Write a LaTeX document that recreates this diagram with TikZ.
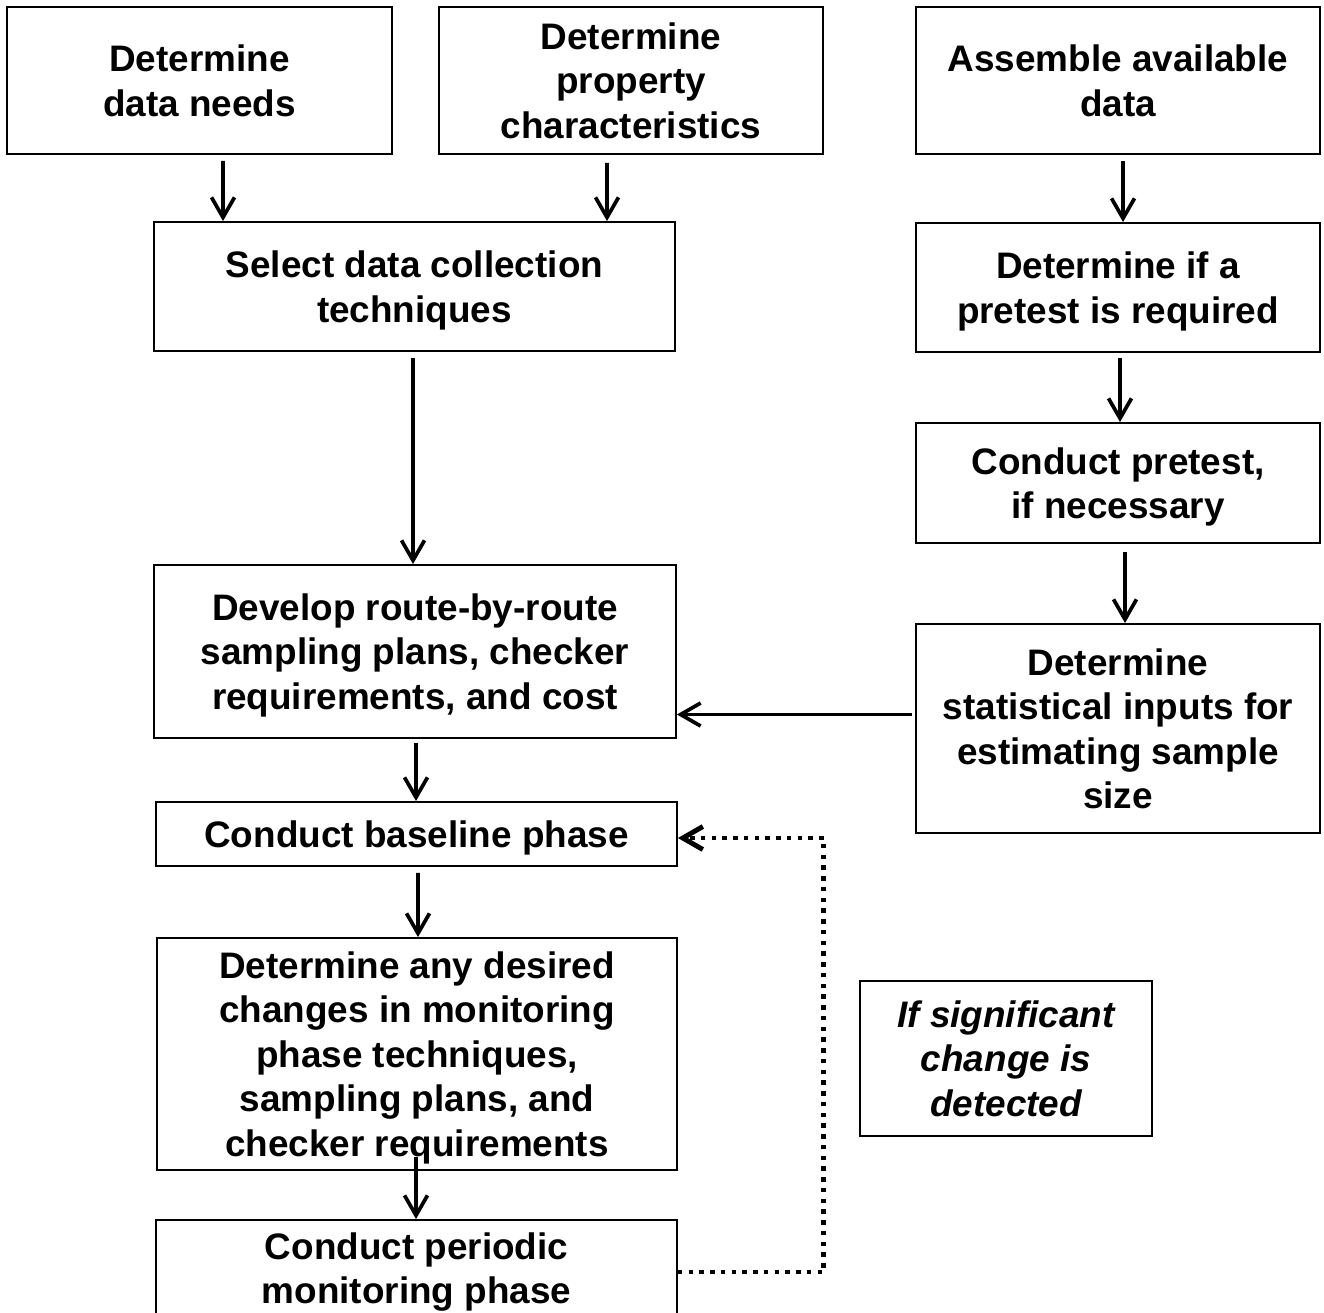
\documentclass[tikz,border=0pt]{standalone}
\usepackage{fontspec}
\setmainfont{Liberation Sans}
\usepackage{tikz}
\usetikzlibrary{calc,arrows.meta}

\tikzset{
  box/.style={draw, line width=1.1pt, align=center, inner sep=0pt, text depth=0pt,
    font=\bfseries\fontsize{21}{25.3}\selectfont},
  arr/.style={line width=2.1pt, -{Straight Barb[length=0.4cm,width=0.46cm]}},
  loopback/.style={line width=2.8pt, dash pattern=on 0.09cm off 0.125cm,
    -{Straight Barb[length=0.4cm,width=0.46cm]}}
}

\begin{document}
\begin{tikzpicture}[x=0.02cm, y=-0.02cm]
        \useasboundingbox (0,0) rectangle (1324,1312);
        \node[box, minimum width=7.7cm, minimum height=2.94cm] (needs) at (199.5,80.5) {Determine\\data needs};
        \node[box, minimum width=7.68cm, minimum height=2.94cm] (prop) at (631,80.5) {Determine\\property\\characteristics};
        \node[box, minimum width=8.08cm, minimum height=2.94cm] (assemble) at (1118,80.5) {Assemble available\\data};
        \node[box, minimum width=10.42cm, minimum height=2.58cm] (select) at (414.5,286.5) {Select data collection\\techniques};
        \node[box, minimum width=8.08cm, minimum height=2.58cm] (pretest) at (1118,287.5) {Determine if a\\pretest is required};
        \node[box, minimum width=8.08cm, minimum height=2.4cm] (conduct) at (1118,483) {Conduct pretest,\\if necessary};
        \node[box, minimum width=10.44cm, minimum height=3.46cm] (develop) at (415,651.5) {Develop route-by-route\\sampling plans, checker\\requirements, and cost};
        \node[box, minimum width=8.08cm, minimum height=4.18cm] (stat) at (1118,728.5) {Determine\\statistical inputs for\\estimating sample\\size};
        \node[box, minimum width=10.42cm, minimum height=1.28cm] (baseline) at (416.5,834) {Conduct baseline phase};
        \node[box, minimum width=10.4cm, minimum height=4.64cm] (changes) at (417,1054) {Determine any desired\\changes in monitoring\\phase techniques,\\sampling plans, and\\checker requirements};
        \node[box, font=\bfseries\itshape\fontsize{21}{25.3}\selectfont, minimum width=5.84cm, minimum height=3.1cm] (ifchange) at (1006,1058.5) {If significant\\change is\\detected};
        \node[box, minimum width=10.42cm, minimum height=1.92cm] (periodic) at (416.5,1268) {Conduct periodic\\monitoring phase};

        \draw[arr] ($(needs.south)+(23.5,6)$) -- ($(select.north)+(-191.5,0)$);
        \draw[arr] ($(prop.south)+(-24,8)$) -- ($(select.north)+(192.5,0)$);
        \draw[arr] ($(assemble.south)+(5,6)$) -- ($(pretest.north)+(5,0)$);
        \draw[arr] ($(pretest.south)+(2,5)$) -- ($(conduct.north)+(2,0)$);
        \draw[arr] ($(conduct.south)+(7,8)$) -- ($(stat.north)+(7,0)$);
        \draw[arr] ($(select.south)+(-1.5,6)$) -- ($(develop.north)+(-2,0)$);
        \draw[arr] ($(stat.west)+(-3,-14)$) -- ($(develop.east)+(0,63)$);
        \draw[arr] ($(develop.south)+(1,4)$) -- ($(baseline.north)+(-0.5,0)$);
        \draw[arr] ($(baseline.south)+(1.5,6)$) -- ($(changes.north)+(1,0)$);
        \draw[arr] ($(changes.south)+(-1,-14)$) -- ($(periodic.north)+(-0.5,0)$);
        \draw[loopback] ($(periodic.east)+(0,4)$) -| ($(baseline.east)+(146,4)$) -- ($(baseline.east)+(0,4)$);
    \end{tikzpicture}
\end{document}
